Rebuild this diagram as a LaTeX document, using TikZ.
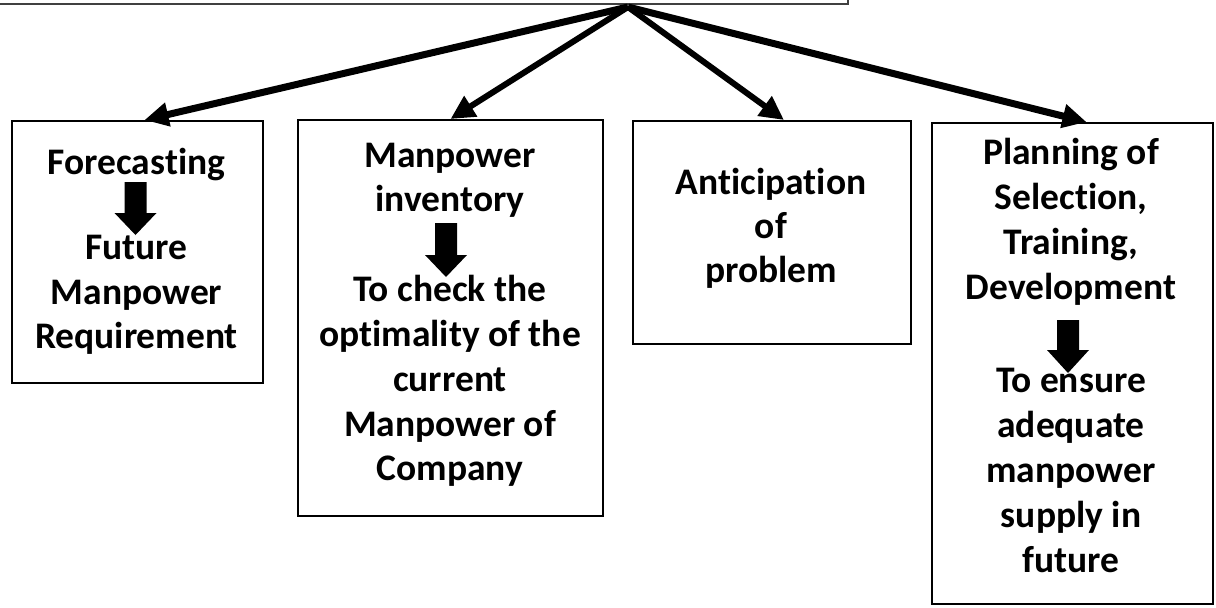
\documentclass[tikz,border=0pt]{standalone}
\usepackage{fontspec}
\setmainfont{Carlito}[Ligatures=NoCommon]
\usetikzlibrary{arrows.meta,calc}
% thick downward block arrow: x centre, top of shaft, start of head, tip
\newcommand\blockdown[4]{%
  \fill (#1-11,#2) -- (#1+11,#2) -- (#1+11,#3) -- (#1+21,#3) -- (#1,#4)
        -- (#1-21,#3) -- (#1-11,#3) -- cycle;}
\begin{document}
\begin{tikzpicture}[x=1pt,y=-1pt,
  box/.style={draw, line width=2pt, inner sep=0pt, anchor=north west},
  txt/.style={inner sep=0pt, font=\fontsize{37.5}{45}\selectfont\bfseries,
              text height=27pt, text depth=9pt},
  link/.style={line width=#1, -{Triangle[length=24pt,width=23pt]}}]
\useasboundingbox (0,0) rectangle (1216,608);

% frame of the heading box, cut by the top edge
\draw[line width=1.5pt, black!75] (0,4) -- (848,4) -- (848,0);
\coordinate (hub) at (628,7);

% the four boxes
\node[box, minimum width=251, minimum height=262] (b1) at (11,120) {};
\node[box, minimum width=305, minimum height=396] (b2) at (297,119) {};
\node[box, minimum width=278, minimum height=223] (b3) at (632,120) {};
\node[box, minimum width=281, minimum height=481] (b4) at (931,122) {};

% connectors from the heading
\draw[link=7pt] (hub) -- ($(b1.north)+(7,0)$);
\draw[link=6pt] (hub) -- ($(b2.north)+(0,0)$);
\draw[link=6pt] (hub) -- ($(b3.north)+(12,0)$);
\draw[link=7pt] (hub) -- ($(b4.north)+(14,0)$);

% box 1
\node[txt] (t1a) at (136.5,165) {Forecasting};
\blockdown{135.5}{182}{213}{235}
\node[txt] (t1b) at (136.5,250) {Future};
\node[txt] (t1c) at (136.5,295) {Manpower};
\node[txt] (t1d) at (136.5,339) {Requirement};

% box 2
\node[txt] (t2a) at (450,158) {Manpower};
\node[txt] (t2b) at (450,202) {inventory};
\blockdown{446}{223}{255}{277}
\node[txt] (t2c) at (450,292) {To check the};
\node[txt] (t2d) at (450,337) {optimality of the};
\node[txt] (t2e) at (450,382) {current};
\node[txt] (t2f) at (450,427) {Manpower of};
\node[txt] (t2g) at (450,471) {Company};

% box 3
\node[txt] (t3a) at (771,185) {Anticipation};
\node[txt] (t3b) at (771,229) {of};
\node[txt] (t3c) at (771,273) {problem};

% box 4
\node[txt] (t4a) at (1071,155) {Planning of};
\node[txt] (t4b) at (1071,200) {Selection,};
\node[txt] (t4c) at (1071,245) {Training,};
\node[txt] (t4d) at (1071,290) {Development};
\blockdown{1068}{320}{350}{373}
\node[txt] (t4e) at (1071,383) {To ensure};
\node[txt] (t4f) at (1071,428) {adequate};
\node[txt] (t4g) at (1071,473) {manpower};
\node[txt] (t4h) at (1071,518) {supply in};
\node[txt] (t4i) at (1071,563) {future};
\end{tikzpicture}
\end{document}
